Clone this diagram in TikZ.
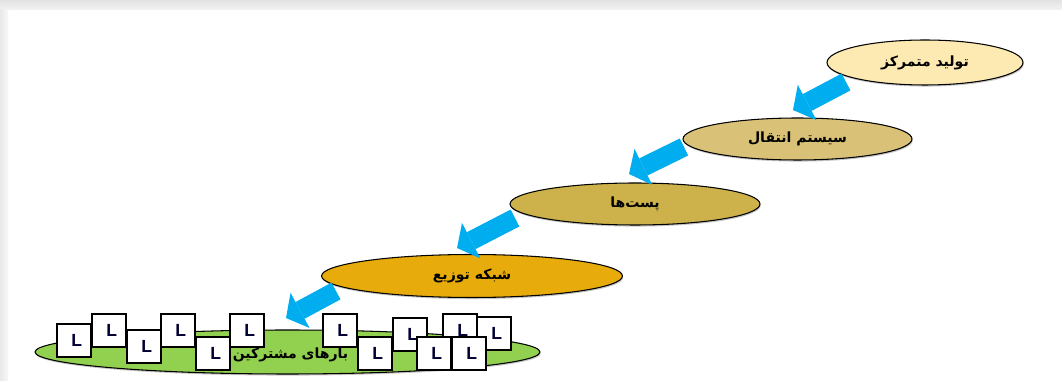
\documentclass[tikz,border=0pt]{standalone}
\usepackage{fontspec}
\usepackage{tikz}
\usepackage{xcolor}
\usetikzlibrary{shapes.geometric, arrows.meta, calc, shadows}
\TeXXeTstate=1
\newfontfamily\arabicfont[Script=Arabic]{DejaVu Sans}
\newfontfamily\boxfont{Liberation Sans}
\definecolor{cGen}{RGB}{253,234,178}
\definecolor{cTrans}{RGB}{217,194,120}
\definecolor{cSub}{RGB}{205,178,76}
\definecolor{cDist}{RGB}{232,171,12}
\definecolor{cLoad}{RGB}{146,208,80}
\definecolor{cArrow}{RGB}{0,174,239}
\tikzset{
	tier/.style     ={ellipse, draw=black, line width=0.6pt, inner sep=0pt, align=center, drop shadow={shadow xshift=0.4pt, shadow yshift=-0.9pt, opacity=0.45}},
	flowarrow/.style={draw=cArrow, line width=0.38cm, -{Triangle[width=0.8cm, length=0.32cm, line width=0pt]}},
	loadbox/.style  ={rectangle, draw=black, line width=0.6pt, fill=white, minimum width=0.68cm, minimum height=0.66cm, inner sep=0pt, font=\boxfont\bfseries\fontsize{10}{11}\selectfont, text=black!80!blue},
}

\begin{document}
\begin{tikzpicture}[x=0.02cm, y=-0.02cm, font=\arabicfont\bfseries\fontsize{8}{9}\selectfont]
	% frame
	\fill[white] (0,0) rectangle (1062,381);
	\shade[top color=black!11, bottom color=black!5] (0,0) rectangle (1062,10);
	\shade[left color=black!9, right color=black!3] (0,10) rectangle (8,381);
	\useasboundingbox (0,0) rectangle (1062,381);
	% levels of the supply chain
	\node[tier, fill=cGen,   minimum width=3.92cm, minimum height=0.9cm]  (gen)   at (925,62.5)  {\beginR تولید متمرکز\endR};
	\node[tier, fill=cTrans, minimum width=4.58cm, minimum height=0.84cm] (trans) at (797.5,139) {\beginR سیستم انتقال\endR};
	\node[tier, fill=cSub,   minimum width=5.0cm,  minimum height=0.84cm] (sub)   at (635,204)   {\beginR پست‌ها\endR};
	\node[tier, fill=cDist,  minimum width=6.02cm, minimum height=0.86cm] (dist)  at (472,276)   {\beginR شبکه توزیع\endR};
	\node[tier, fill=cLoad,  minimum width=10.1cm, minimum height=0.88cm] (loads) at (287.5,352) {};
	% consumer loads
	\foreach \n/\x/\y in {a/74/340.5, b/109/330.5, c/144/346.5, d/178/330.5, e/213/353.5, f/247/330.5,
		g/340/330.5, h/375/353.5, i/410/334.5, k/460/330.5, m/494/333.5, j/434/353.5, l/469/353.5}
		\node[loadbox] (ld\n) at (\x,\y) {\hspace{3pt}L};
	\node (loadtxt) at ($(loads.center)+(3,3)$) {\beginR بارهای مشترکین\endR};
	% flow arrows
	\draw[flowarrow] ($(gen.center)+(-79,19.5)$)   -- ($(trans.center)+(-4.5,-29)$);
	\draw[flowarrow] ($(trans.center)+(-113.5,8)$) -- ($(sub.center)+(-6,-30)$);
	\draw[flowarrow] ($(sub.center)+(-120,14)$)    -- ($(dist.center)+(-15,-28)$);
	\draw[flowarrow] ($(dist.center)+(-136,15)$)   -- ($(loads.center)+(-1.5,-34)$);
\end{tikzpicture}
\end{document}
